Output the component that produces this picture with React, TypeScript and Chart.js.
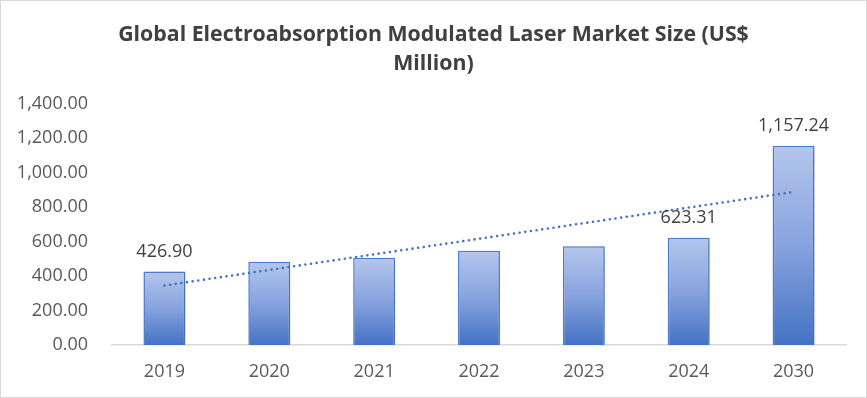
import { useEffect, useRef } from "react";
import { Chart, registerables } from "chart.js";

Chart.register(...registerables);

const categories = ["2019", "2020", "2021", "2022", "2023", "2024", "2030"];
const marketSize = [426.9, 484, 507, 548, 573, 623.31, 1157.24];
const labeledIndexes = [0, 5, 6];
const yMax = 1400;
const yStep = 200;
const titleLines = [
  "Global Electroabsorption Modulated Laser Market Size (US$",
  "Million)",
];

// Linear trendline (least squares over category index), as a spreadsheet trendline does
function linearTrend(values: number[]): number[] {
  const n = values.length;
  const xm = (n - 1) / 2;
  const ym = values.reduce((a, b) => a + b, 0) / n;
  let num = 0;
  let den = 0;
  values.forEach((v, i) => {
    num += (i - xm) * (v - ym);
    den += (i - xm) * (i - xm);
  });
  const slope = num / den;
  return values.map((_, i) => ym + slope * (i - xm));
}
const trendValues = linearTrend(marketSize);

const FONT = "'Open Sans', 'DejaVu Sans', sans-serif";

const fmt = (v: number) =>
  v.toLocaleString("en-US", { minimumFractionDigits: 2, maximumFractionDigits: 2 });

export default function App() {
  const ref = useRef<HTMLCanvasElement | null>(null);

  useEffect(() => {
    const canvas = ref.current;
    if (!canvas) return;

    const borderPlugin = {
      id: "outerBorder",
      beforeDraw(chart: any) {
        const { ctx, width, height } = chart;
        ctx.save();
        ctx.fillStyle = "#ffffff";
        ctx.fillRect(0, 0, width, height);
        ctx.strokeStyle = "#d9d9d9";
        ctx.lineWidth = 1;
        ctx.strokeRect(0.5, 0.5, width - 1, height - 1);
        ctx.restore();
      },
    };

    const labelPlugin = {
      id: "barLabels",
      afterDatasetsDraw(chart: any) {
        const meta = chart.getDatasetMeta(0);
        const { ctx } = chart;
        ctx.save();
        ctx.font = `18px ${FONT}`;
        ctx.fillStyle = "#404040";
        ctx.textAlign = "center";
        ctx.textBaseline = "middle";
        labeledIndexes.forEach((i) => {
          const el = meta.data[i];
          if (!el) return;
          ctx.fillText(fmt(marketSize[i]), el.x, el.y - 20);
        });
        ctx.restore();
      },
    };

    const shadowPlugin = {
      id: "barShadow",
      beforeDatasetDraw(chart: any, args: any) {
        if (args.index !== 0) return;
        const { ctx } = chart;
        ctx.save();
        ctx.shadowColor = "rgba(0,0,0,0.18)";
        ctx.shadowBlur = 6;
        ctx.shadowOffsetX = 2;
        ctx.shadowOffsetY = 1;
      },
      afterDatasetDraw(chart: any, args: any) {
        if (args.index !== 0) return;
        chart.ctx.restore();
      },
    };

    const barGradient = (c: any) => {
      const chart = c.chart;
      const yScale = chart.scales?.y;
      if (!chart.chartArea || !yScale || c.dataIndex === undefined) return "#6f8fd6";
      const top = yScale.getPixelForValue(marketSize[c.dataIndex]);
      const bottom = yScale.getPixelForValue(0);
      const g = chart.ctx.createLinearGradient(0, top, 0, bottom);
      g.addColorStop(0, "#b4c6ec");
      g.addColorStop(0.5, "#87a3de");
      g.addColorStop(1, "#4472c4");
      return g;
    };

    const chart = new Chart(canvas, {
      type: "bar",
      data: {
        labels: categories,
        datasets: [
          {
            type: "bar",
            data: marketSize,
            backgroundColor: barGradient,
            borderColor: "#4f7fd6",
            borderWidth: 1.5,
            barPercentage: 0.4,
            categoryPercentage: 1,
            order: 2,
          },
          {
            type: "line",
            data: trendValues,
            borderColor: "#4472c4",
            borderWidth: 2.6,
            borderDash: [0, 5.7],
            borderCapStyle: "round",
            pointRadius: 0,
            fill: false,
            tension: 0,
            order: 1,
          },
        ] as any,
      },
      options: {
        animation: false,
        responsive: false,
        maintainAspectRatio: false,
        layout: { padding: { left: 0, right: 0, top: 0, bottom: 16 } },
        plugins: {
          legend: { display: false },
          tooltip: { enabled: false },
          title: {
            display: true,
            text: titleLines,
            color: "#404040",
            font: { family: FONT, size: 21.3, weight: "bold", lineHeight: 1.36 },
            padding: { top: 20, bottom: 26 },
          },
        },
        scales: {
          x: {
            grid: { display: false, drawTicks: false },
            border: { display: true, color: "#d9d9d9", width: 1.5 },
            afterFit(scale: any) {
              scale.height = 37;
            },
            ticks: {
              color: "#595959",
              font: { family: FONT, size: 18 },
              padding: 16,
            },
          },
          y: {
            min: 0,
            max: yMax,
            grid: { display: false, drawTicks: false },
            border: { display: false },
            afterFit(scale: any) {
              scale.width = 112;
            },
            ticks: {
              stepSize: yStep,
              color: "#595959",
              font: { family: FONT, size: 18 },
              padding: 24,
              callback: (v: any) => fmt(Number(v)),
            },
          },
          rightGap: {
            type: "linear",
            position: "right",
            display: true,
            grid: { display: false, drawTicks: false },
            border: { display: false },
            ticks: { display: false },
            afterFit(scale: any) {
              scale.width = 21;
            },
          },
        },
      } as any,
      plugins: [borderPlugin, shadowPlugin, labelPlugin],
    });

    return () => chart.destroy();
  }, []);

  return (
    <div style={{ position: "fixed", left: 0, top: 0, width: 867, height: 398 }}>
      <canvas ref={ref} width={867} height={398} style={{ display: "block", width: 867, height: 398 }} />
    </div>
  );
}
